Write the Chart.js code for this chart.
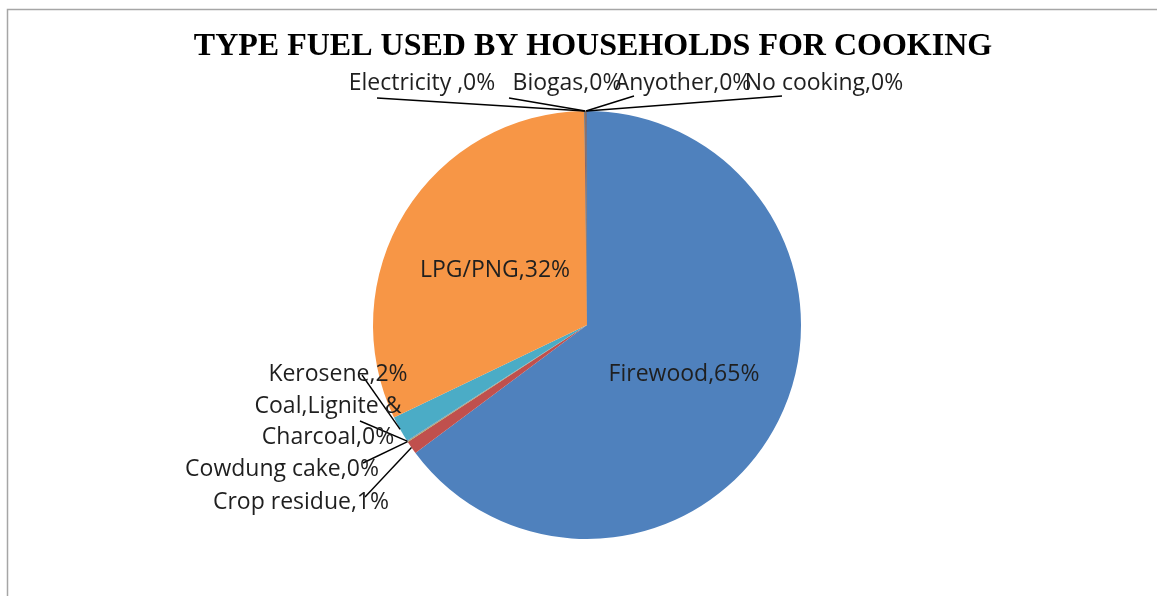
<!DOCTYPE html>
<html>
<head>
<meta charset="utf-8">
<title>Type fuel used by households for cooking</title>
<script src="https://cdn.jsdelivr.net/npm/chart.js@4.4.1/dist/chart.umd.min.js"></script>
<style>
  html, body { margin: 0; padding: 0; background: #ffffff; }
  #wrap { width: 1157px; height: 596px; }
</style>
</head>
<body>
<div id="wrap"><canvas id="chart" width="1157" height="596"></canvas></div>
<script>
var chartTitle = 'TYPE FUEL USED BY HOUSEHOLDS FOR COOKING';
var fuels = ['Firewood', 'Crop residue', 'Cowdung cake', 'Coal,Lignite & Charcoal', 'Kerosene', 'LPG/PNG', 'Electricity ', 'Biogas', 'Anyother', 'No cooking'];
var shares = [65, 1, 0.05, 0.05, 2, 32, 0.05, 0.05, 0.05, 0.05];
var fuelColors = ['#4F81BD', '#C0504D', '#9BBB59', '#8064A2', '#4BACC6', '#F79646', '#2C4D75', '#772C2A', '#5F7530', '#4D3B62'];

// label placement, px from the pie centre; line = where the leader starts (null = label sits on the slice)
var labelPos = [
  { x: 97, y: 49, line: null },
  { x: -286, y: 177, line: [-222, 172] },
  { x: -305, y: 144, line: [-224, 138] },
  { x: -259, y: 97, line: [-227, 96], wrap: 165 },
  { x: -249, y: 49, line: [-225, 50] },
  { x: -92, y: -55, line: null },
  { x: -165, y: -242, line: [-210, -227] },
  { x: -20, y: -242, line: [-78, -227] },
  { x: 96, y: -242, line: [47, -229] },
  { x: 237, y: -242, line: [195, -229] }
];

var labelFont = '23px "Open Sans", "Noto Sans", sans-serif';

function wrapText(ctx, text, maxWidth) {
  var words = text.split(' ');
  var lines = [];
  var cur = '';
  for (var i = 0; i < words.length; i++) {
    var test = cur ? cur + ' ' + words[i] : words[i];
    if (cur && ctx.measureText(test).width > maxWidth) {
      lines.push(cur);
      cur = words[i];
    } else {
      cur = test;
    }
  }
  if (cur) lines.push(cur);
  return lines;
}

var framePlugin = {
  id: 'frame',
  beforeDraw: function (c) {
    var ctx = c.ctx;
    ctx.save();
    ctx.fillStyle = '#ffffff';
    ctx.fillRect(0, 0, c.width, c.height);
    ctx.strokeStyle = '#a6a6a6';
    ctx.lineWidth = 1.5;
    ctx.strokeRect(7.5, 9.5, c.width + 20, c.height + 20);
    ctx.restore();
  }
};

var labelPlugin = {
  id: 'sliceLabels',
  afterDraw: function (c) {
    var ctx = c.ctx;
    var meta = c.getDatasetMeta(0);
    var values = c.data.datasets[0].data;
    var total = values.reduce(function (a, b) { return a + b; }, 0);
    var arc0 = meta.data[0];
    var cx = arc0.x, cy = arc0.y;

    ctx.save();
    // title
    ctx.font = 'bold 32px "Liberation Serif", "Times New Roman", serif';
    ctx.fillStyle = '#000000';
    ctx.textAlign = 'center';
    ctx.textBaseline = 'alphabetic';
    ctx.fillText(chartTitle, 593, 55);

    // leader lines first, text on top
    ctx.strokeStyle = '#000000';
    ctx.lineWidth = 1.4;
    meta.data.forEach(function (arc, i) {
      var p = labelPos[i];
      if (!p.line) return;
      var mid = (arc.startAngle + arc.endAngle) / 2;
      var ax = arc.x + Math.cos(mid) * arc.outerRadius;
      var ay = arc.y + Math.sin(mid) * arc.outerRadius;
      ctx.beginPath();
      ctx.moveTo(cx + p.line[0], cy + p.line[1]);
      ctx.lineTo(ax, ay);
      ctx.stroke();
    });

    ctx.font = labelFont;
    ctx.fillStyle = '#1f1f1f';
    ctx.textAlign = 'center';
    ctx.textBaseline = 'middle';
    meta.data.forEach(function (arc, i) {
      var p = labelPos[i];
      var pct = Math.round(values[i] / total * 100);
      var text = c.data.labels[i] + ',' + pct + '%';
      var lines = p.wrap ? wrapText(ctx, text, p.wrap) : [text];
      var lh = 31;
      var y0 = cy + p.y - (lines.length - 1) * lh / 2;
      lines.forEach(function (ln, k) {
        ctx.fillText(ln, cx + p.x, y0 + k * lh);
      });
    });
    ctx.restore();
  }
};

var chart = new Chart(document.getElementById('chart'), {
  type: 'pie',
  data: {
    labels: fuels,
    datasets: [{
      data: shares,
      backgroundColor: fuelColors,
      borderWidth: 0
    }]
  },
  options: {
    responsive: false,
    animation: false,
    layout: {
      padding: { top: 111, bottom: 57, left: 174, right: 157 }
    },
    plugins: {
      legend: { display: false },
      title: { display: false },
      tooltip: { enabled: false }
    }
  },
  plugins: [framePlugin, labelPlugin]
});
</script>
</body>
</html>
